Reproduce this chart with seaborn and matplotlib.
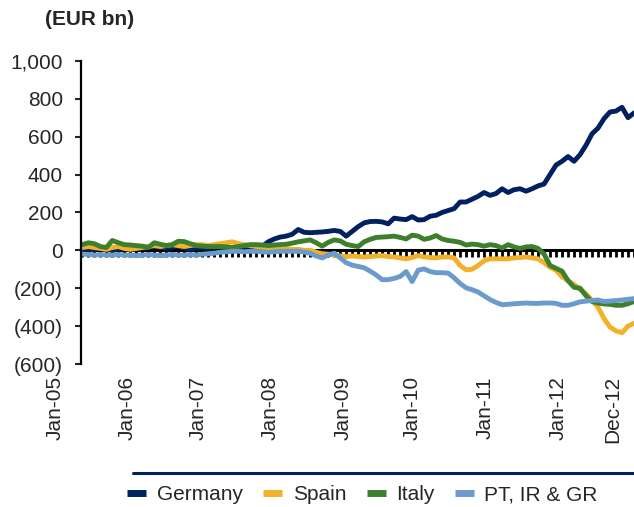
import numpy as np
import pandas as pd
import matplotlib
matplotlib.use("Agg")
import matplotlib.pyplot as plt
import seaborn as sns
from matplotlib.lines import Line2D
from matplotlib.ticker import FuncFormatter

# monthly TARGET2 balances, EUR bn
germany = [5, 0, 5, 10, 5, 0, 5, 10, 15, 10, 10, 15, 20, 15, 10, 15, 20, 10, 5, 10,
           15, 10, 15, 20, 15, 10, 5, 10, 10, 15, 20, 45, 60, 70, 75, 85, 110, 95, 93, 95,
           97, 100, 105, 100, 75, 100, 125, 145, 152, 153, 150, 140, 170, 165, 162, 178, 160, 162, 180, 185,
           200, 210, 220, 255, 255, 270, 285, 305, 290, 300, 325, 305, 320, 325, 312, 325, 340, 350, 400, 450,
           470, 495, 470, 505, 555, 615, 645, 695, 730, 735, 755, 700, 725]
spain = [15, 20, 15, 10, 5, 15, 20, 10, 5, 10, 15, 20, 25, 20, 25, 30, 25, 20, 25, 30,
         30, 25, 30, 35, 40, 45, 35, 30, 25, 20, 15, 10, 5, 5, 10, 5, 5, 0, 0, -10,
         -18, -20, -25, -30, -33, -30, -33, -35, -33, -30, -28, -33, -35, -40, -45, -38, -28, -35, -38, -40,
         -35, -35, -40, -80, -103, -100, -80, -55, -45, -45, -45, -45, -40, -38, -35, -40, -45, -65, -90, -105,
         -140, -160, -180, -205, -230, -265, -300, -360, -405, -425, -435, -400, -385]
italy = [30, 40, 35, 20, 15, 52, 40, 30, 28, 25, 22, 15, 40, 32, 25, 30, 48, 46, 35, 25,
         22, 20, 20, 20, 18, 15, 20, 25, 30, 30, 28, 25, 28, 30, 32, 38, 45, 50, 55, 40,
         22, 42, 55, 50, 32, 25, 20, 45, 58, 68, 70, 72, 75, 68, 60, 80, 75, 58, 65, 78,
         60, 52, 48, 42, 28, 33, 30, 22, 30, 25, 12, 30, 18, 10, 18, 20, 10, -20, -80, -95,
         -110, -160, -195, -200, -240, -270, -278, -283, -285, -290, -290, -282, -270]
periphery = [-20, -22, -25, -22, -25, -25, -22, -25, -25, -28, -25, -22, -25, -28, -25, -22, -25, -25, -22, -25,
             -20, -18, -15, -10, -8, -5, -5, -8, -5, -5, -8, -10, -8, -5, -5, -5, -5, -10, -15, -30,
             -40, -25, -15, -40, -65, -78, -85, -92, -110, -130, -155, -155, -148, -138, -112, -165, -105, -98, -112, -118,
             -118, -120, -145, -175, -198, -208, -220, -240, -260, -275, -287, -285, -282, -280, -278, -280, -280, -278, -278, -280,
             -290, -290, -282, -272, -268, -265, -262, -270, -268, -265, -262, -258, -255]

series_names = ["Germany", "Spain", "Italy", "PT, IR & GR"]
colors = ["#002060", "#F2B12A", "#3E7F2D", "#6A9BCB"]

tick_labels = ["Jan-05", "Jan-06", "Jan-07", "Jan-08", "Jan-09", "Jan-10", "Jan-11", "Jan-12", "Dec-12"]
tick_pos = [-4.5, 7.5, 19.3, 31.3, 43.5, 55.0, 67.2, 79.3, 88.5]

months = np.arange(len(germany))
df = pd.concat([
    pd.DataFrame({"month": months, "value": vals, "series": name})
    for name, vals in zip(series_names, [germany, spain, italy, periphery])
])

sns.set_style("white")
plt.rcParams["font.family"] = ["Liberation Sans", "DejaVu Sans"]

fig = plt.figure(figsize=(6.34, 5.07), dpi=100)
ax = fig.add_axes([0.128, 0.282, 0.872, 0.598])

sns.lineplot(data=df, x="month", y="value", hue="series", hue_order=series_names,
             palette=colors, linewidth=3.5, ax=ax, legend=False)

ymin, ymax = -600, 1000
ax.set_ylim(ymin, ymax)
ax.set_xlim(-0.2, 92)
ax.set_yticks(np.arange(-600, 1001, 200))
ax.yaxis.set_major_formatter(FuncFormatter(lambda v, p: f"{v:,.0f}" if v >= 0 else f"({-v:,.0f})"))
ax.tick_params(axis="y", direction="out", length=4, width=1.5, pad=9, labelsize=15, left=True)
ax.set_xticks([])
ax.set_xlabel("")
ax.set_ylabel("")
for s in ["top", "right", "bottom"]:
    ax.spines[s].set_visible(False)
ax.spines["left"].set_linewidth(1.6)
ax.spines["left"].set_color("black")

# zero line with monthly tick marks
zero = ax.secondary_xaxis((0 - ymin) / (ymax - ymin))
zero.set_xticks(months)
zero.tick_params(axis="x", direction="out", length=5, width=2, labelbottom=False, bottom=True, color="black")
zero.spines["bottom"].set_linewidth(2.2)
zero.spines["bottom"].set_color("black")

for pos, lab in zip(tick_pos, tick_labels):
    ax.text(pos, -0.04, lab, transform=ax.get_xaxis_transform(), rotation=90,
            ha="center", va="top", fontsize=15, clip_on=False)

fig.text(0.071, 0.961, "(EUR bn)", fontsize=15, fontweight="bold", ha="left", va="center")

fig.add_artist(Line2D([0.21, 1.0], [0.067, 0.067], color="#002060", linewidth=2.2,
                      transform=fig.transFigure))
handles = [Line2D([0], [0], color=c, linewidth=5, solid_capstyle="butt") for c in colors]
fig.legend(handles, series_names, loc="center", bbox_to_anchor=(0.572, 0.024), ncol=4,
           frameon=False, fontsize=15, handlelength=0.9, handletextpad=0.5, columnspacing=1.0)

plt.savefig("out.png", dpi=100)
plt.close(fig)
